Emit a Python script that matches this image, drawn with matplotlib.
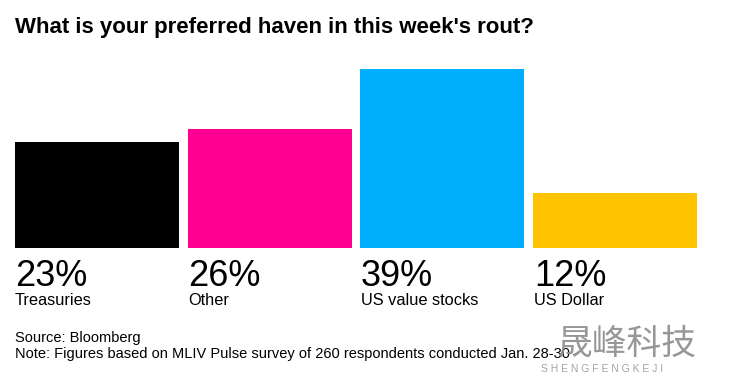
import matplotlib.pyplot as plt

plt.rcParams['font.family'] = ['Liberation Sans', 'Noto Sans CJK SC', 'DejaVu Sans']

categories = ['Treasuries', 'Other', 'US value stocks', 'US Dollar']
shares = [23, 26, 39, 12]
colors = ['#000000', '#ff0090', '#00b0ff', '#ffc300']

W, H = 730, 375
fig = plt.figure(figsize=(W / 100, H / 100), dpi=100)

# axes spans from the left edge of the first bar to the right edge of the last
ax = fig.add_axes([15 / W, (H - 248) / H, (697 - 15) / W, 179 / H])
width = 164 / 173
x = list(range(len(categories)))
ax.bar(x, shares, width=width, color=colors)
ax.set_xlim(-width / 2, len(categories) - 1 + width / 2)
ax.set_ylim(0, max(shares))
ax.axis('off')

def fy(py):
    return 1 - py / H

fig.text(15 / W, fy(33), "What is your preferred haven in this week's rout?",
         fontsize=16, fontweight='bold', va='baseline', ha='left')

for i, (cat, v) in enumerate(zip(categories, shares)):
    left = 15 + i * 173
    fig.text(left / W, fy(286), f'{v}%', fontsize=26, va='baseline', ha='left')
    fig.text(left / W, fy(305), cat, fontsize=11.8, va='baseline', ha='left')

fig.text(15 / W, fy(342), 'Source: Bloomberg', fontsize=10.5, va='baseline', ha='left')
fig.text(15 / W, fy(358),
         'Note: Figures based on MLIV Pulse survey of 260 respondents conducted Jan. 28-30',
         fontsize=10.5, va='baseline', ha='left')

# watermark
fig.text(558 / W, fy(354), '晟峰科技', fontsize=25, color='#8c8c8c',
         va='baseline', ha='left', alpha=0.9)
fig.text(541 / W, fy(372), 'S H E N G F E N G K E J I', fontsize=7.5, color='#9a9a9a',
         va='baseline', ha='left', alpha=0.9)

fig.savefig('out.png', dpi=100, facecolor='white')
